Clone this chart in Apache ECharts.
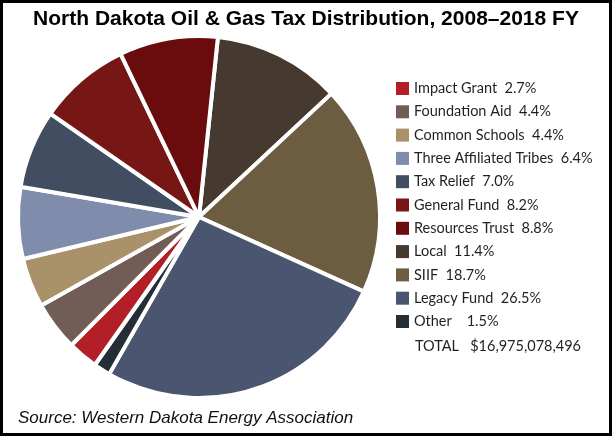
<!DOCTYPE html>
<html>
<head>
<meta charset="utf-8">
<script src="https://cdn.jsdelivr.net/npm/echarts@6/dist/echarts.min.js"></script>
<style>
  html, body { margin: 0; padding: 0; background: #fff; }
  #chart { width: 612px; height: 436px; }
</style>
</head>
<body>
<div id="chart"></div>
<script>
// slices in clockwise order starting near 12 o'clock
const names = ['Local', 'SIIF', 'Legacy Fund', 'Other', 'Impact Grant', 'Foundation Aid',
  'Common Schools', 'Three Affiliated Tribes', 'Tax Relief', 'General Fund', 'Resources Trust'];
const shares = [11.4, 18.7, 26.5, 1.5, 2.7, 4.4, 4.4, 6.4, 7.0, 8.2, 8.8];
const colors = ['#453930', '#6d5d40', '#4a5570', '#252d35', '#b21f27', '#715d55',
  '#a99169', '#7f8cab', '#414d60', '#771715', '#6a0c0d'];
// legend order as printed
const legendOrder = ['Impact Grant', 'Foundation Aid', 'Common Schools', 'Three Affiliated Tribes',
  'Tax Relief', 'General Fund', 'Resources Trust', 'Local', 'SIIF', 'Legacy Fund', 'Other'];
const totalText = 'TOTAL   $16,975,078,496';

const chart = echarts.init(document.getElementById('chart'));

const pieData = names.map((n, i) => ({ name: n, value: shares[i], itemStyle: { color: colors[i] } }));

const option = {
  backgroundColor: '#fff',
  animation: false,
  title: {
    text: 'North Dakota Oil & Gas Tax Distribution, 2008\u20132018 FY',
    left: 'center',
    top: 4,
    textStyle: {
      fontFamily: 'Liberation Sans, Arial, sans-serif',
      fontSize: 21,
      fontWeight: 'bold',
      color: '#000'
    }
  },
  legend: {
    orient: 'vertical',
    left: 391,
    top: 76,
    icon: 'rect',
    itemWidth: 13,
    itemHeight: 13,
    itemGap: 8.3,
    selectedMode: false,
    data: legendOrder,
    itemStyle: { borderWidth: 0 },
    formatter: (name) => {
      const v = shares[names.indexOf(name)];
      return name + (name === 'Other' ? '    ' : '  ') + v.toFixed(1) + '%';
    },
    textStyle: {
      fontFamily: 'Lato, sans-serif',
      fontSize: 14.5,
      color: '#231f20'
    }
  },
  graphic: [
    {
      type: 'text',
      left: 415,
      top: 339,
      style: {
        text: totalText,
        font: '14.5px Lato, sans-serif',
        fill: '#231f20'
      }
    },
    {
      type: 'text',
      left: 18,
      top: 410,
      style: {
        text: 'Source: Western Dakota Energy Association',
        font: 'italic 17px "Liberation Sans", Arial, sans-serif',
        fill: '#111'
      }
    },
    {
      type: 'rect',
      shape: { x: 1.5, y: 1.5, width: 609, height: 433 },
      style: { fill: 'none', stroke: '#000', lineWidth: 3 },
      z: 100
    }
  ],
  series: [
    {
      type: 'pie',
      center: [199, 217],
      radius: [0, 181],
      startAngle: 84,
      clockwise: true,
      label: { show: false },
      labelLine: { show: false },
      emphasis: { disabled: true },
      itemStyle: { borderColor: '#fff', borderWidth: 4 },
      data: pieData
    }
  ]
};

chart.setOption(option);
</script>
</body>
</html>
